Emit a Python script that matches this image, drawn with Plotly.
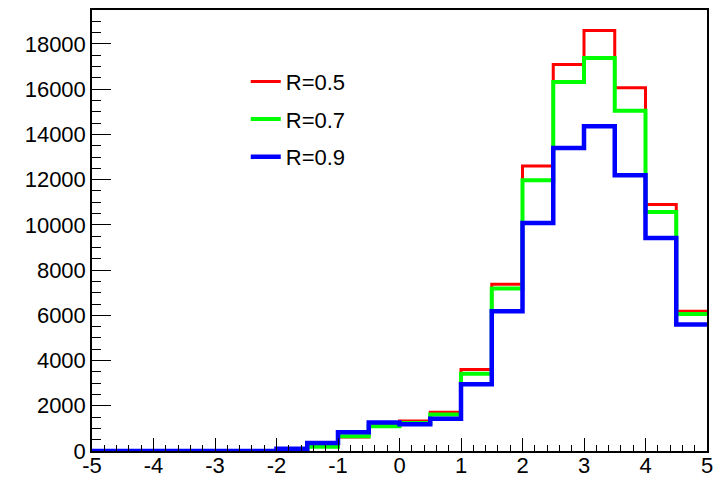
import plotly.graph_objects as go

bin_edges = [-5.0, -4.5, -4.0, -3.5, -3.0, -2.5, -2.0, -1.5, -1.0, -0.5, 0.0,
             0.5, 1.0, 1.5, 2.0, 2.5, 3.0, 3.5, 4.0, 4.5, 5.0]

r05 = [0, 0, 0, 0, 0, 0, 30, 220, 620, 1140, 1330, 1710, 3600, 7370,
       12600, 17090, 18590, 16060, 10900, 6180]
r07 = [0, 0, 0, 0, 0, 0, 30, 190, 650, 1090, 1240, 1610, 3420, 7180,
       11970, 16320, 17380, 15040, 10570, 6060]
r09 = [0, 0, 0, 0, 0, 0, 105, 355, 830, 1255, 1180, 1430, 2950, 6180,
       10085, 13400, 14360, 12195, 9420, 5590]

x_tick_vals = [-5, -4, -3, -2, -1, 0, 1, 2, 3, 4, 5]
x_tick_text = ["-5", "-4", "-3", "-2", "-1", "0", "1", "2", "3", "4", "5"]

series = [("R=0.5", r05, "#ff0000", 3),
          ("R=0.7", r07, "#00ff00", 4),
          ("R=0.9", r09, "#0000ff", 4.5)]

fig = go.Figure()
for i, (name, vals, color, w) in enumerate(series):
    fig.add_trace(go.Scatter(
        x=bin_edges, y=list(vals) + [vals[-1]],
        mode="lines", line=dict(color=color, width=w, shape="hv"),
        name=name, legendgroup=f"g{i}", cliponaxis=True))

font = "Liberation Sans, Arial, sans-serif"
fig.update_layout(
    width=724, height=478,
    margin=dict(l=92, r=17, t=10, b=27),
    paper_bgcolor="white", plot_bgcolor="white",
    font=dict(family=font, size=22, color="black"),
    showlegend=True,
    legend=dict(x=0.25, y=0.885, xanchor="left", yanchor="top",
                bgcolor="rgba(0,0,0,0)", font=dict(size=22, family=font),
                tracegroupgap=6, itemwidth=30),
    xaxis=dict(range=[-5, 5], showgrid=False, zeroline=False, automargin=False,
               showline=True, linecolor="black", linewidth=1.5, mirror=True,
               ticks="inside", ticklen=13, tickcolor="black", tickwidth=1,
               tickvals=x_tick_vals, ticktext=x_tick_text,
               ticklabelstandoff=-6,
               minor=dict(dtick=0.2, tick0=0, ticklen=6.5, ticks="inside",
                          tickcolor="black", showgrid=False)),
    yaxis=dict(range=[0, 19500], showgrid=False, zeroline=False, automargin=False,
               showline=True, linecolor="black", linewidth=1.5, mirror=True,
               ticks="inside", ticklen=19, tickcolor="black", tickwidth=1,
               dtick=2000, tick0=0, tickformat="d",
               minor=dict(dtick=500, ticklen=9, ticks="inside",
                          tickcolor="black", showgrid=False)),
)

fig.write_html("out.html")
